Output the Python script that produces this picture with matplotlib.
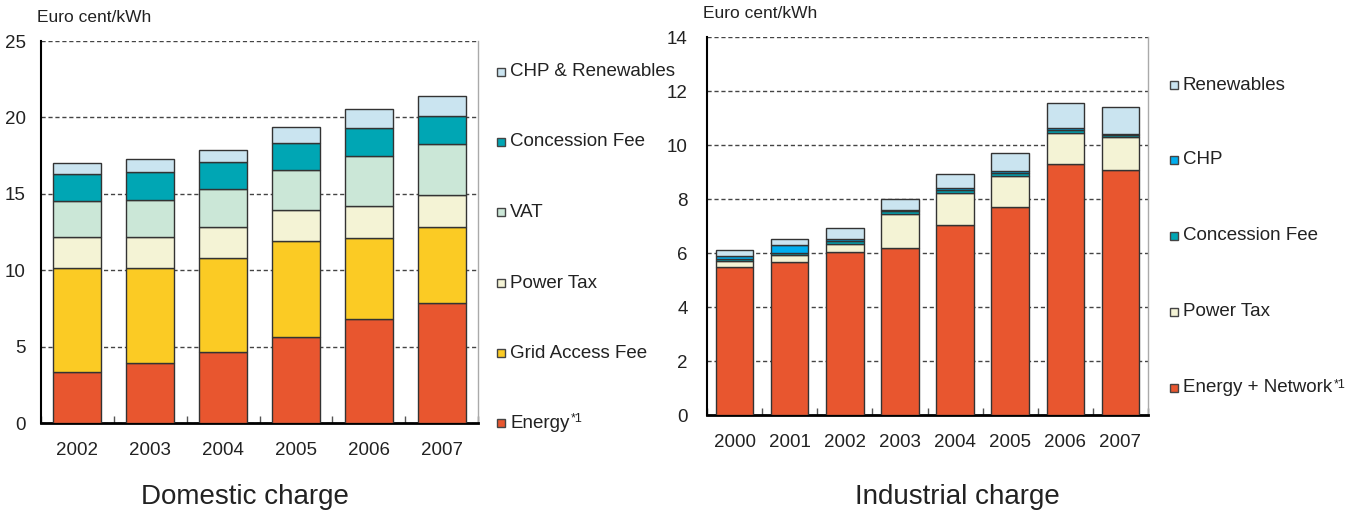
import matplotlib
matplotlib.use("Agg")
import matplotlib.pyplot as plt
import numpy as np
from matplotlib.patches import Rectangle

plt.rcParams["font.family"] = ["Liberation Sans", "DejaVu Sans"]

# Domestic charge (Euro cent/kWh)
dom_years = ["2002", "2003", "2004", "2005", "2006", "2007"]
dom_energy = [3.34, 3.95, 4.65, 5.65, 6.83, 7.85]
dom_grid = [6.83, 6.22, 6.15, 6.24, 5.30, 4.96]
dom_power = [2.03, 2.03, 2.01, 2.03, 2.09, 2.11]
dom_vat = [2.33, 2.42, 2.50, 2.62, 3.28, 3.34]
dom_conc = [1.79, 1.78, 1.77, 1.78, 1.78, 1.81]
dom_chp_ren = [0.70, 0.88, 0.79, 1.03, 1.25, 1.31]

# Industrial charge (Euro cent/kWh)
ind_years = ["2000", "2001", "2002", "2003", "2004", "2005", "2006", "2007"]
ind_energy = [5.47, 5.66, 6.03, 6.19, 7.02, 7.69, 9.29, 9.07]
ind_power = [0.25, 0.28, 0.32, 1.25, 1.22, 1.17, 1.16, 1.21]
ind_conc = [0.04, 0.06, 0.10, 0.10, 0.10, 0.10, 0.10, 0.08]
ind_chp = [0.12, 0.28, 0.06, 0.06, 0.08, 0.07, 0.07, 0.06]
ind_ren = [0.23, 0.22, 0.40, 0.39, 0.50, 0.68, 0.92, 0.97]

c_energy = "#E8562F"
c_grid = "#FBCB24"
c_power = "#F4F3D5"
c_vat = "#CBE7D7"
c_conc = "#00A6B4"
c_lblue = "#CAE4F0"
c_chp = "#00AEEF"
edge = "#333333"
fs = 13.5

W, H = 1364, 518
fig = plt.figure(figsize=(W / 100, H / 100), dpi=100)


def px_axes(x0, y0, x1, y1):
    return fig.add_axes([x0 / W, 1 - y1 / H, (x1 - x0) / W, (y1 - y0) / H])


def stack(ax, years, series, width):
    x = np.arange(len(years))
    bottom = np.zeros(len(years))
    for vals, col in series:
        ax.bar(x, vals, width, bottom=bottom, color=col, edgecolor=edge,
               linewidth=1.0, zorder=3)
        bottom += np.array(vals)
    ax.set_xlim(-0.5, len(years) - 0.5)
    ax.set_xticks(x)
    ax.set_xticklabels(years, fontsize=fs, color="#222222")
    ax.set_xticks(np.arange(len(years) + 1) - 0.5, minor=True)
    ax.tick_params(axis="x", which="major", length=0, pad=14)
    ax.tick_params(axis="x", which="minor", direction="in", length=5,
                   width=1, color="#555555")
    ax.tick_params(axis="y", length=0, labelsize=fs, labelcolor="#222222")
    ax.yaxis.grid(True, linestyle=(0, (3, 2)), color="#444444", linewidth=1)
    ax.set_axisbelow(True)
    ax.spines["top"].set_visible(False)
    ax.spines["right"].set_color("#aaaaaa")
    ax.spines["right"].set_linewidth(1)
    ax.spines["left"].set_linewidth(1.5)
    ax.spines["bottom"].set_linewidth(2)


def legend(items, x_mark, x_text, ys):
    for (label, col), y in zip(items, ys):
        fig.patches.append(Rectangle((x_mark / W, 1 - (y + 4) / H), 8 / W, 8 / H,
                                     transform=fig.transFigure, facecolor=col,
                                     edgecolor="#444444", linewidth=1))
        t = fig.text(x_text / W, 1 - y / H, label, fontsize=fs, va="center",
                     ha="left", color="#222222")
        if label.startswith("Energy"):
            fig.canvas.draw()
            bb = t.get_window_extent()
            fig.text(bb.x1 / W + 1 / W, (bb.y1 - 8) / H, "*1", fontsize=9,
                     color="#222222")


# Domestic
ax1 = px_axes(41, 41, 478, 423)
stack(ax1, dom_years, [(dom_energy, c_energy), (dom_grid, c_grid),
                       (dom_power, c_power), (dom_vat, c_vat),
                       (dom_conc, c_conc), (dom_chp_ren, c_lblue)], 0.66)
ax1.set_ylim(0, 25)
ax1.set_yticks([0, 5, 10, 15, 20, 25])
ax1.tick_params(axis="y", pad=11)
fig.text(37 / W, 1 - 18 / H, "Euro cent/kWh", fontsize=12.5, va="center",
         color="#222222")
fig.text(245 / W, 1 - 497 / H, "Domestic charge", fontsize=20, ha="center",
         va="center", color="#222222")
legend([("CHP & Renewables", c_lblue), ("Concession Fee", c_conc),
        ("VAT", c_vat), ("Power Tax", c_power),
        ("Grid Access Fee", c_grid), ("Energy", c_energy)],
       497, 510, [72, 142, 212, 283, 353, 423])

# Industrial
ax2 = px_axes(707, 37, 1148, 415)
stack(ax2, ind_years, [(ind_energy, c_energy), (ind_power, c_power),
                       (ind_conc, c_conc), (ind_chp, c_chp),
                       (ind_ren, c_lblue)], 0.68)
ax2.set_ylim(0, 14)
ax2.set_yticks(range(0, 15, 2))
ax2.tick_params(axis="y", pad=14)
fig.text(703 / W, 1 - 13 / H, "Euro cent/kWh", fontsize=12.5, va="center",
         color="#222222")
fig.text(957 / W, 1 - 497 / H, "Industrial charge", fontsize=20, ha="center",
         va="center", color="#222222")
legend([("Renewables", c_lblue), ("CHP", c_chp), ("Concession Fee", c_conc),
        ("Power Tax", c_power), ("Energy + Network", c_energy)],
       1170, 1183, [85, 160, 236, 312, 388])

fig.savefig("out.png", dpi=100)
